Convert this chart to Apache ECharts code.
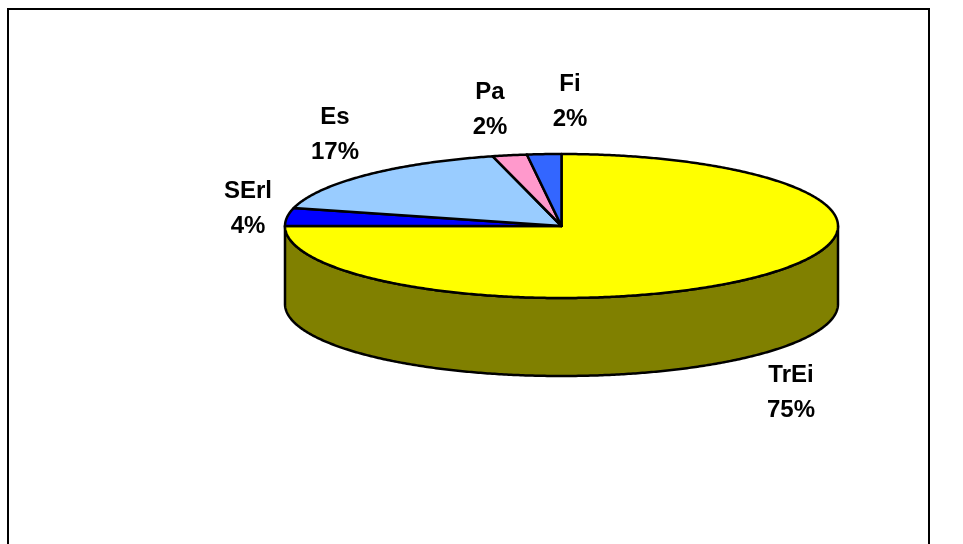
<!DOCTYPE html>
<html>
<head>
<meta charset="utf-8">
<style>
  html, body { margin: 0; padding: 0; background: #fff; }
  #chart { width: 963px; height: 544px; }
</style>
<script src="https://cdn.jsdelivr.net/npm/echarts@6/dist/echarts.min.js"></script>
</head>
<body>
<div id="chart"></div>
<script>
// Slice data, clockwise from twelve o'clock
const categories = ['TrEi', 'SErl', 'Es', 'Pa', 'Fi'];
const shares = [75, 4, 17, 2, 2];
const sliceColors = ['#FFFF00', '#0000FF', '#99CCFF', '#FF99CC', '#3366FF'];
const wallColor = '#808000';

// Tilted disc geometry
const disc = { cx: 561.5, cy: 226, rx: 276.5, ry: 72, depth: 78 };
// Label centres, one per category
const labelAnchors = [[791, 393], [248, 209], [335, 135], [490, 110], [570, 102]];

const total = shares.reduce((a, b) => a + b, 0);
const startAngles = [];
shares.reduce((sum, v, i) => { startAngles[i] = sum / total * 360; return sum + v; }, 0);

function rim(deg, dy) {
  const t = deg * Math.PI / 180;
  return [disc.cx + disc.rx * Math.sin(t), disc.cy - disc.ry * Math.cos(t) + (dy || 0)];
}
function arc(from, to, dy) {
  const pts = [];
  const n = Math.max(2, Math.ceil(Math.abs(to - from) * 2));
  for (let i = 0; i <= n; i++) pts.push(rim(from + (to - from) * i / n, dy));
  return pts;
}

const outline = { stroke: '#000', lineWidth: 2.5, lineJoin: 'round' };

function renderSlice(params, api) {
  const i = params.dataIndex;
  const from = startAngles[i];
  const to = from + api.value(0) / total * 360;
  const children = [];

  // Visible side wall: the part of the slice on the front half of the rim
  const wFrom = Math.max(from, 90), wTo = Math.min(to, 270);
  if (wTo > wFrom) {
    children.push({
      type: 'polygon',
      shape: { points: arc(wFrom, wTo, 0).concat(arc(wTo, wFrom, disc.depth)) },
      style: Object.assign({ fill: wallColor }, outline)
    });
  }

  children.push({
    type: 'polygon',
    shape: { points: [[disc.cx, disc.cy]].concat(arc(from, to, 0)) },
    style: Object.assign({ fill: sliceColors[i] }, outline)
  });

  children.push({
    type: 'text',
    z2: 10,
    style: {
      text: categories[i] + '\n' + api.value(0) + '%',
      x: labelAnchors[i][0],
      y: labelAnchors[i][1],
      align: 'center',
      verticalAlign: 'middle',
      lineHeight: 35,
      fontFamily: '"Liberation Sans", Arial, sans-serif',
      fontWeight: 'bold',
      fontSize: 24,
      fill: '#000'
    }
  });
  return { type: 'group', children };
}

const chart = echarts.init(document.getElementById('chart'), null, { renderer: 'canvas' });
chart.setOption({
  animation: false,
  backgroundColor: '#fff',
  graphic: [{
    // Chart-area frame; its lower edge runs past the bottom of the page
    type: 'rect',
    silent: true,
    shape: { x: 8, y: 9, width: 921, height: 560 },
    style: { fill: 'none', stroke: '#000', lineWidth: 2 }
  }],
  series: [{
    type: 'custom',
    coordinateSystem: 'none',
    renderItem: renderSlice,
    data: shares.map((v, i) => ({ name: categories[i], value: [v] }))
  }]
});
</script>
</body>
</html>
